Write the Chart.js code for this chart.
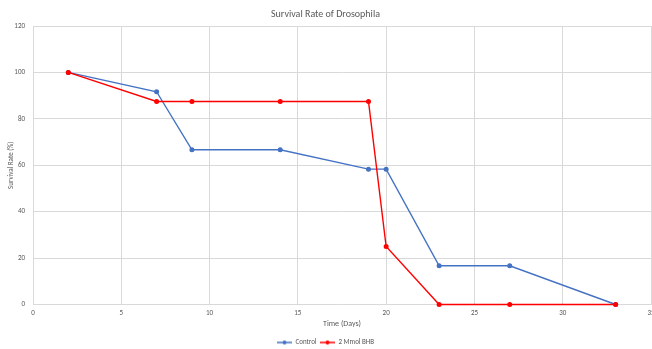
<!DOCTYPE html>
<html>
<head>
<meta charset="utf-8">
<script src="https://cdn.jsdelivr.net/npm/chart.js@4.4.1/dist/chart.umd.min.js"></script>
<style>
  html, body { margin: 0; padding: 0; background: #ffffff; overflow: hidden; }
  #wrap { width: 660px; height: 349px; position: relative; }
</style>
</head>
<body>
<div id="wrap"><canvas id="chart" width="660" height="349"></canvas></div>
<script>
// Days on which survivors were counted
const days = [2, 7, 9, 14, 19, 20, 23, 27, 33];
// Survival rate (%) per group
const controlRate = [100, 91.67, 66.67, 66.67, 58.33, 58.33, 16.67, 16.67, 0];
const bhbRate = [100, 87.5, 87.5, 87.5, 87.5, 25, 0, 0, 0];
const seriesNames = ['Control', '2 Mmol BHB'];
const yTicks = [0, 20, 40, 60, 80, 100, 120];
const xTicks = [0, 5, 10, 15, 20, 25, 30, 35];

const BLUE = '#4472C4';
const RED = '#FF0000';
const GRID = '#D9D9D9';
const TEXT = '#595959';
const FONT = "Carlito, 'Liberation Sans Narrow', 'Open Sans', sans-serif";

function pairs(xs, ys) {
  return xs.map((x, i) => ({ x: x, y: ys[i] }));
}

// Legend swatch: short line with a round marker in the middle
function swatch(color) {
  const c = document.createElement('canvas');
  c.width = 15; c.height = 6;
  const g = c.getContext('2d');
  g.strokeStyle = color; g.lineWidth = 1.5;
  g.beginPath(); g.moveTo(0, 3); g.lineTo(15, 3); g.stroke();
  g.fillStyle = color;
  g.beginPath(); g.arc(7.5, 3, 2, 0, Math.PI * 2); g.fill();
  return c;
}

Chart.defaults.font.family = FONT;
Chart.defaults.color = TEXT;

new Chart(document.getElementById('chart'), {
  type: 'line',
  data: {
    datasets: [
      {
        label: seriesNames[0],
        data: pairs(days, controlRate),
        borderColor: BLUE,
        backgroundColor: BLUE,
        borderWidth: 1.4,
        pointRadius: 1.8,
        pointHoverRadius: 1.8,
        pointStyle: 'circle',
        tension: 0,
        clip: false,
        order: 2
      },
      {
        label: seriesNames[1],
        data: pairs(days, bhbRate),
        borderColor: RED,
        backgroundColor: RED,
        borderWidth: 1.4,
        pointRadius: 1.8,
        pointHoverRadius: 1.8,
        pointStyle: 'circle',
        tension: 0,
        clip: false,
        order: 1
      }
    ]
  },
  options: {
    responsive: false,
    animation: false,
    layout: { padding: { left: 0, right: 9, top: 0, bottom: -7 } },
    plugins: {
      tooltip: { enabled: false },
      title: {
        display: true,
        text: 'Survival Rate of Drosophila',
        color: TEXT,
        font: { size: 10, weight: 'normal' },
        padding: { top: 8, bottom: 6 }
      },
      legend: {
        position: 'bottom',
        labels: {
          usePointStyle: true,
          pointStyleWidth: 15,
          font: { size: 7, lineHeight: 1 },
          color: TEXT,
          padding: 3.5,
          generateLabels(chart) {
            return chart.data.datasets.map((ds, i) => ({
              text: ds.label,
              pointStyle: swatch(ds.borderColor),
              fillStyle: ds.borderColor,
              strokeStyle: ds.borderColor,
              lineWidth: 0,
              hidden: false,
              datasetIndex: i,
              fontColor: TEXT
            }));
          }
        }
      }
    },
    scales: {
      x: {
        type: 'linear',
        min: 0,
        max: 35,
        afterBuildTicks(axis) { axis.ticks = xTicks.map(v => ({ value: v })); },
        grid: { color: GRID, lineWidth: 1, drawTicks: false },
        border: { color: GRID },
        ticks: { font: { size: 7, lineHeight: 1 }, color: TEXT, padding: 5, maxRotation: 0 },
        title: {
          display: true,
          text: 'Time (Days)',
          color: TEXT,
          font: { size: 8, lineHeight: 1 },
          padding: { top: -2, bottom: 8 }
        }
      },
      y: {
        min: 0,
        max: 120,
        afterBuildTicks(axis) { axis.ticks = yTicks.map(v => ({ value: v })); },
        afterFit(axis) { axis.width = 33; },
        grid: { color: GRID, lineWidth: 1, drawTicks: false },
        border: { color: GRID },
        ticks: { font: { size: 7 }, color: TEXT, padding: 8 },
        title: {
          display: true,
          text: 'Survival Rate (%)',
          color: TEXT,
          font: { size: 7 },
          padding: { top: 7, bottom: 0 }
        }
      }
    }
  }
});
</script>
</body>
</html>
